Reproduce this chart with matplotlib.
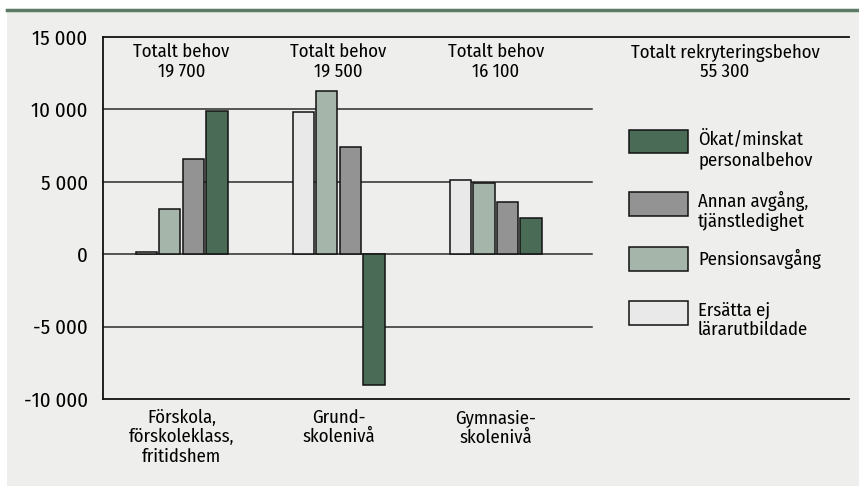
import matplotlib
matplotlib.use("Agg")
import matplotlib.pyplot as plt
from matplotlib.patches import Rectangle
import numpy as np

# ---- data ----
categories = ["Förskola,\nförskoleklass,\nfritidshem", "Grund-\nskolenivå", "Gymnasie-\nskolenivå"]
series_names = ["Ersätta ej\nlärarutbildade", "Pensionsavgång", "Annan avgång,\ntjänstledighet", "Ökat/minskat\npersonalbehov"]
ersatta = [150, 9800, 5100]
pension = [3100, 11300, 4900]
annan = [6550, 7400, 3600]
okat = [9900, -9000, 2500]
group_totals = ["19 700", "19 500", "16 100"]
grand_total = "55 300"
yticks = [-10000, -5000, 0, 5000, 10000, 15000]
ytick_labels = ["-10 000", "-5 000", "0", "5 000", "10 000", "15 000"]

colors = ["#e9e9e9", "#a5b5aa", "#939393", "#4a6c57"]
series = [ersatta, pension, annan, okat]

FONT = ["Fira Sans Condensed", "PT Sans Narrow", "Liberation Sans Narrow", "Liberation Sans", "DejaVu Sans"]
plt.rcParams["font.family"] = FONT
FS = 13.4
LS = 1.13

W, H = 859, 486
fig = plt.figure(figsize=(W / 100, H / 100), dpi=100)
fig.patch.set_facecolor("white")

def fx(px):
    return px / W

def fy(py):
    return 1 - py / H

# grey panel and green top rule
fig.patches.append(Rectangle((fx(7), 0), 1 - fx(7), fy(11.5), transform=fig.transFigure,
                             facecolor="#eeefed", edgecolor="none", zorder=-5))
fig.lines.append(plt.Line2D([fx(7), 1], [fy(10.5), fy(10.5)], transform=fig.transFigure,
                            color="#5b7b66", lw=2.5, zorder=-4))

ax = fig.add_axes([fx(103), fy(399), fx(849) - fx(103), fy(37) - fy(399)])
ax.set_facecolor("none")
ax.set_zorder(1)

x = np.arange(len(categories))
bw = 0.136
pitch = 0.15
offsets = (np.arange(4) - 1.5) * pitch

for yv in [-5000, 0, 5000, 10000]:
    ax.axhline(yv, xmin=0, xmax=0.655, color="#2a2a2a", lw=1.1, zorder=1)

for s, vals, col, off in zip(series_names, series, colors, offsets):
    ax.bar(x + off, vals, width=bw, color=col, edgecolor="#111111", linewidth=1.1, zorder=3)

ax.set_xlim(-0.5, 4.25)
ax.set_ylim(-10000, 15000)
ax.set_yticks(yticks)
ax.set_yticklabels(ytick_labels, fontsize=15, family=FONT)
ax.set_xticks(x)
ax.set_xticklabels(categories, fontsize=FS, linespacing=LS, family=FONT)
ax.tick_params(axis="both", length=0)
ax.tick_params(axis="y", pad=11)
ax.tick_params(axis="x", pad=7)

ax.spines["right"].set_visible(False)
for sp in ["left", "top", "bottom"]:
    ax.spines[sp].set_color("#111111")
    ax.spines[sp].set_linewidth(1.3)

for xi, tot in zip(x, group_totals):
    ax.text(xi, 13300, f"Totalt behov\n{tot}", ha="center", va="center",
            fontsize=FS, linespacing=LS, family=FONT)

fig.text(fx(725), fy(62), f"Totalt rekryteringsbehov\n{grand_total}", ha="center", va="center",
         fontsize=FS, linespacing=1.05, family=FONT)

# legend (manual)
leg_top = [130, 192, 247, 301]
leg_order = [3, 2, 1, 0]
for top, idx in zip(leg_top, leg_order):
    fig.patches.append(Rectangle((fx(629), fy(top + 23.5)), fx(688) - fx(629), fy(top) - fy(top + 23.5),
                                 transform=fig.transFigure, facecolor=colors[idx],
                                 edgecolor="#111111", linewidth=1.1, zorder=3))
    nlines = series_names[idx].count("\n") + 1
    cy = top + 11.75 + (7.5 if nlines == 2 else 0)
    fig.text(fx(698), fy(cy), series_names[idx], ha="left", va="center",
             fontsize=FS, linespacing=LS, family=FONT)

fig.savefig("out.png", dpi=100, facecolor="white")
